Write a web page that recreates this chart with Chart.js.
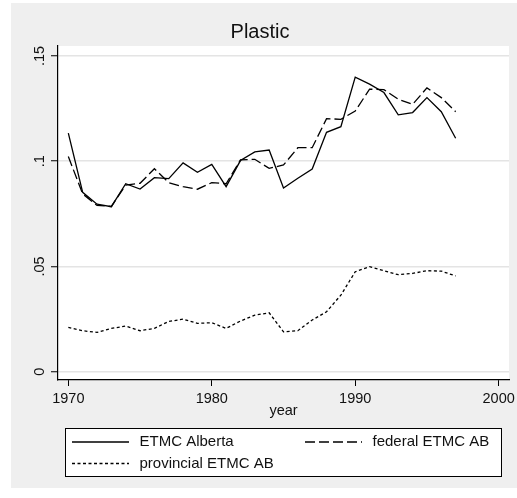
<!DOCTYPE html>
<html>
<head>
<meta charset="utf-8">
<script src="https://cdn.jsdelivr.net/npm/chart.js@4.4.1/dist/chart.umd.min.js"></script>
<style>
  html, body { margin: 0; padding: 0; background: #fff; }
  #wrap { width: 517px; height: 498px; }
</style>
</head>
<body>
<div id="wrap"><canvas id="plastic" width="517" height="498"></canvas></div>
<script>
// values, 1970-1997
const years = [1970, 1971, 1972, 1973, 1974, 1975, 1976, 1977, 1978, 1979,
               1980, 1981, 1982, 1983, 1984, 1985, 1986, 1987, 1988, 1989,
               1990, 1991, 1992, 1993, 1994, 1995, 1996, 1997];
const etmcAlberta = [0.1133, 0.0852, 0.0796, 0.0784, 0.0893, 0.0868, 0.0922, 0.0917, 0.0992, 0.0947,
                     0.0985, 0.0879, 0.1003, 0.1044, 0.1053, 0.0873, 0.0919, 0.0963, 0.1137, 0.1164,
                     0.1399, 0.1366, 0.1326, 0.1220, 0.1231, 0.1302, 0.1235, 0.1109];
const federalEtmc = [0.1022, 0.0845, 0.0790, 0.0785, 0.0887, 0.0895, 0.0964, 0.0898, 0.0879, 0.0867,
                     0.0898, 0.0893, 0.1006, 0.1009, 0.0966, 0.0982, 0.1064, 0.1064, 0.1202, 0.1199,
                     0.1238, 0.1342, 0.1340, 0.1294, 0.1270, 0.1348, 0.1302, 0.1235];
const provincialEtmc = [0.0211, 0.0195, 0.0187, 0.0206, 0.0217, 0.0195, 0.0206, 0.0239, 0.0250, 0.0230,
                        0.0233, 0.0206, 0.0241, 0.0269, 0.0280, 0.0190, 0.0195, 0.0246, 0.0285, 0.0364,
                        0.0475, 0.0499, 0.0480, 0.0461, 0.0467, 0.0480, 0.0478, 0.0455];
const seriesNames = ['ETMC Alberta', 'federal ETMC AB', 'provincial ETMC AB'];
const xTicks = [1970, 1980, 1990, 2000];
const yTicks = [0, 0.05, 0.1, 0.15];
const yTickLabels = ['0', '.05', '.1', '.15'];

const FONT = '"Liberation Sans", Arial, sans-serif';
const INK = '#111';

function points(values) {
    return years.map((yr, i) => ({ x: yr, y: values[i] }));
}

// gray graph region + white plot region, like Stata's s2 scheme
const stataBackground = {
    id: 'stataBackground',
    beforeDraw(chart) {
        const { ctx, chartArea } = chart;
        ctx.save();
        ctx.fillStyle = '#fff';
        ctx.fillRect(0, 0, chart.width, chart.height);
        ctx.fillStyle = '#efefef';
        ctx.fillRect(11, 3, chart.width - 11, 485);
        ctx.fillStyle = '#fff';
        ctx.fillRect(chartArea.left, chartArea.top, chartArea.right - chartArea.left, chartArea.bottom - chartArea.top);
        ctx.restore();
    }
};

// boxed two-column legend under the axis title
const boxedLegend = {
    id: 'boxedLegend',
    afterDraw(chart) {
        const ctx = chart.ctx;
        const slots = [[72, 442], [305, 442], [72, 463.5]];
        ctx.save();
        ctx.fillStyle = '#fff';
        ctx.fillRect(65.5, 428.5, 436, 48);
        ctx.strokeStyle = '#000';
        ctx.lineWidth = 1;
        ctx.strokeRect(65.5, 428.5, 436, 48);
        chart.data.datasets.forEach((d, i) => {
            const [x, y] = slots[i];
            ctx.beginPath();
            ctx.setLineDash(d.borderDash || []);
            ctx.lineWidth = d.borderWidth;
            ctx.strokeStyle = d.borderColor;
            ctx.moveTo(x, y);
            ctx.lineTo(x + 57, y);
            ctx.stroke();
            ctx.setLineDash([]);
            ctx.fillStyle = INK;
            ctx.font = '15px ' + FONT;
            ctx.textBaseline = 'middle';
            ctx.fillText(d.label, x + 67.5, y);
        });
        ctx.restore();
    }
};

const tickFont = { family: FONT, size: 14.5 };

new Chart(document.getElementById('plastic'), {
    type: 'line',
    data: {
        datasets: [{
            label: seriesNames[0],
            data: points(etmcAlberta),
            borderColor: '#000',
            borderWidth: 1.3,
            borderDash: []
        }, {
            label: seriesNames[1],
            data: points(federalEtmc),
            borderColor: '#000',
            borderWidth: 1.3,
            borderDash: [10, 4]
        }, {
            label: seriesNames[2],
            data: points(provincialEtmc),
            borderColor: '#000',
            borderWidth: 1.3,
            borderDash: [3, 2.5]
        }]
    },
    options: {
        responsive: false,
        animation: false,
        events: [],
        elements: {
            point: { radius: 0 },
            line: { tension: 0, fill: false }
        },
        layout: { padding: { left: 11, top: 3, right: 8, bottom: 78 } },
        plugins: {
            legend: { display: false },
            tooltip: { enabled: false },
            title: {
                display: true,
                text: 'Plastic',
                color: INK,
                font: { family: FONT, size: 20, weight: 'normal' },
                padding: { top: 17, bottom: 2 }
            }
        },
        scales: {
            x: {
                type: 'linear',
                min: 1969.28,
                max: 2000.72,
                afterBuildTicks: s => { s.ticks = xTicks.map(v => ({ value: v })); },
                afterFit: s => { s.height = 40; s.paddingLeft = 0; s.paddingRight = 0; },
                grid: { drawOnChartArea: false, color: '#000', tickLength: 6, tickWidth: 1 },
                border: { color: '#000', width: 1.2 },
                ticks: {
                    font: tickFont,
                    color: INK,
                    padding: 4,
                    maxRotation: 0,
                    autoSkip: false,
                    callback: v => String(v)
                },
                title: {
                    display: true,
                    text: 'year',
                    color: INK,
                    font: tickFont,
                    padding: 0
                }
            },
            y: {
                min: -0.0039,
                max: 0.1547,
                afterBuildTicks: s => { s.ticks = yTicks.map(v => ({ value: v })); },
                afterFit: s => { s.width = 47; s.paddingTop = 0; s.paddingBottom = 0; },
                grid: { color: '#e4e4e4', lineWidth: 1.5, tickColor: '#000', tickLength: 7, tickWidth: 1 },
                border: { color: '#000', width: 1.2 },
                ticks: {
                    font: tickFont,
                    color: INK,
                    padding: 1,
                    minRotation: 90,
                    maxRotation: 90,
                    crossAlign: 'center',
                    autoSkip: false,
                    callback: (v, i) => yTickLabels[i]
                }
            }
        }
    },
    plugins: [stataBackground, boxedLegend]
});
</script>
</body>
</html>
